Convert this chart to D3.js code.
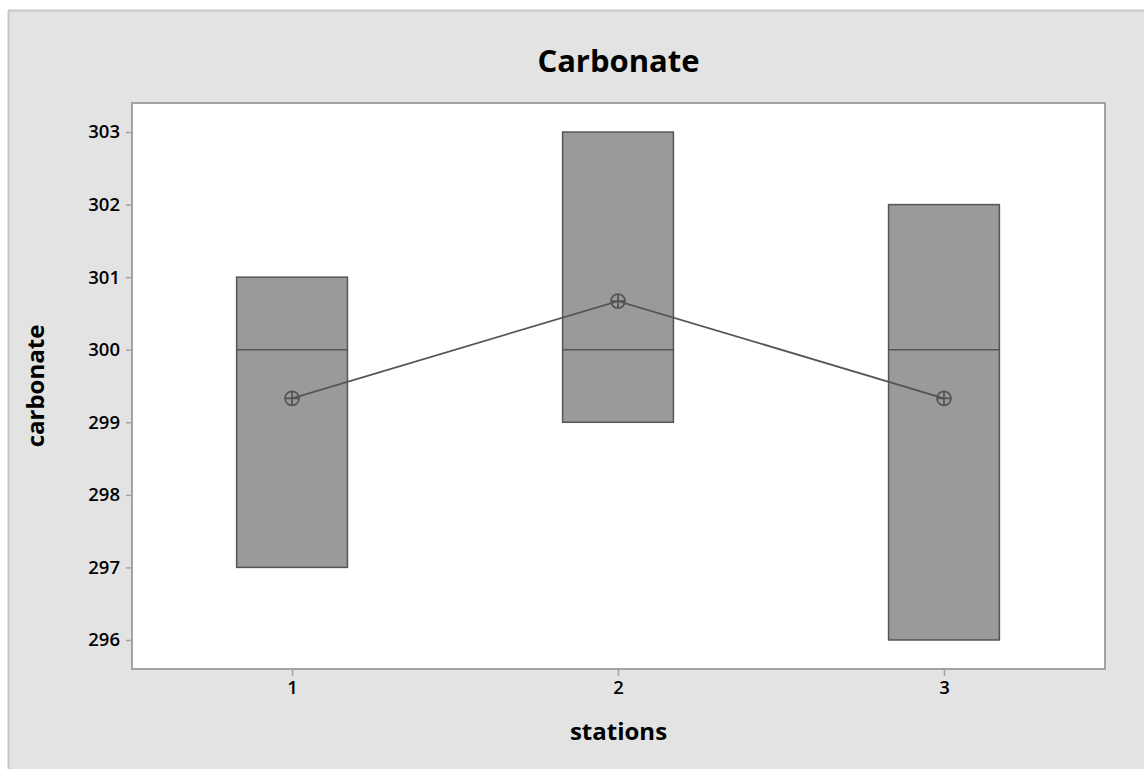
<!DOCTYPE html>
<html>
<head>
<meta charset="utf-8">
<script src="https://cdn.jsdelivr.net/npm/d3@7"></script>
<style>
  html, body { margin: 0; padding: 0; background: #ffffff; }
  svg { display: block; }
</style>
</head>
<body>
<svg id="chart" width="1144" height="769"></svg>
<script>
// Carbonate by station: box spans (Q1..Q3), median line, mean connected by a line
const stations = ["1", "2", "3"];
const q1Values = [297, 299, 296];
const medianValues = [300, 300, 300];
const q3Values = [301, 303, 302];
const meanValues = [299.33, 300.67, 299.33];
const yTicks = [296, 297, 298, 299, 300, 301, 302, 303];

const svg = d3.select("#chart");
const W = 1144, H = 769;
const font = "'Open Sans', 'Noto Sans', sans-serif";

// outer panel
svg.append("rect").attr("x", 0).attr("y", 0).attr("width", W).attr("height", H).attr("fill", "#ffffff");
svg.append("rect").attr("x", 8).attr("y", 10).attr("width", W - 8).attr("height", H - 10)
  .attr("fill", "#e3e3e3");
svg.append("line").attr("x1", 8).attr("x2", W).attr("y1", 10.5).attr("y2", 10.5)
  .attr("stroke", "#c8c8c8").attr("stroke-width", 2);
svg.append("line").attr("x1", 8.5).attr("x2", 8.5).attr("y1", 10).attr("y2", H)
  .attr("stroke", "#c8c8c8").attr("stroke-width", 2);

const plot = { left: 132, top: 103, right: 1105, bottom: 669 };

const x = d3.scaleLinear().domain([0.509, 3.494]).range([plot.left, plot.right]);
const y = d3.scaleLinear().domain([295.6, 303.4]).range([plot.bottom, plot.top]);

// plotting area
svg.append("rect")
  .attr("x", plot.left).attr("y", plot.top)
  .attr("width", plot.right - plot.left).attr("height", plot.bottom - plot.top)
  .attr("fill", "#ffffff").attr("stroke", "#a3a3a3").attr("stroke-width", 2);

// axes
const yAxis = d3.axisLeft(y).tickValues(yTicks).tickSize(5).tickPadding(6).tickFormat(d3.format("d"));
const yg = svg.append("g").attr("transform", `translate(${plot.left - 1},0)`).call(yAxis);
yg.select(".domain").remove();
yg.selectAll(".tick line").attr("stroke", "#a3a3a3").attr("stroke-width", 1.5);
yg.selectAll(".tick text").attr("fill", "#000").style("font-family", font)
  .style("font-size", "18.5px").style("font-weight", 600);

const xAxis = d3.axisBottom(x).tickValues(stations.map(Number)).tickSize(6).tickPadding(5)
  .tickFormat((d, i) => stations[i]);
const xg = svg.append("g").attr("transform", `translate(0,${plot.bottom + 1})`).call(xAxis);
xg.select(".domain").remove();
xg.selectAll(".tick line").attr("stroke", "#a3a3a3").attr("stroke-width", 1.5);
xg.selectAll(".tick text").attr("fill", "#000").style("font-family", font)
  .style("font-size", "18.5px").style("font-weight", 600);

// boxes
const boxHalf = 0.17;
const boxes = svg.append("g");
stations.forEach((s, i) => {
  const cx = Number(s);
  boxes.append("rect")
    .attr("x", x(cx - boxHalf)).attr("y", y(q3Values[i]))
    .attr("width", x(cx + boxHalf) - x(cx - boxHalf))
    .attr("height", y(q1Values[i]) - y(q3Values[i]))
    .attr("fill", "#9a9a9a").attr("stroke", "#555555").attr("stroke-width", 1.5);
  boxes.append("line")
    .attr("x1", x(cx - boxHalf)).attr("x2", x(cx + boxHalf))
    .attr("y1", y(medianValues[i])).attr("y2", y(medianValues[i]))
    .attr("stroke", "#555555").attr("stroke-width", 1.5);
});

// mean connect line
const meanPts = stations.map((s, i) => [x(Number(s)), y(meanValues[i])]);
svg.append("path").attr("d", d3.line()(meanPts))
  .attr("fill", "none").attr("stroke", "#555555").attr("stroke-width", 1.8);

// mean symbols (circled plus)
const r = 7;
const sym = svg.append("g");
meanPts.forEach(([px, py]) => {
  sym.append("circle").attr("cx", px).attr("cy", py).attr("r", r)
    .attr("fill", "none").attr("stroke", "#555555").attr("stroke-width", 1.8);
  sym.append("line").attr("x1", px - r).attr("x2", px + r).attr("y1", py).attr("y2", py)
    .attr("stroke", "#555555").attr("stroke-width", 1.8);
  sym.append("line").attr("x1", px).attr("x2", px).attr("y1", py - r).attr("y2", py + r)
    .attr("stroke", "#555555").attr("stroke-width", 1.8);
});

// titles
svg.append("text").attr("x", (plot.left + plot.right) / 2).attr("y", 72)
  .attr("text-anchor", "middle").style("font-family", font)
  .style("font-size", "31px").style("font-weight", 700).text("Carbonate");

svg.append("text").attr("x", (plot.left + plot.right) / 2).attr("y", 740)
  .attr("text-anchor", "middle").style("font-family", font)
  .style("font-size", "24px").style("font-weight", 700).text("stations");

svg.append("text")
  .attr("transform", `translate(44,${(plot.top + plot.bottom) / 2}) rotate(-90)`)
  .attr("text-anchor", "middle").style("font-family", font)
  .style("font-size", "24px").style("font-weight", 700).text("carbonate");
</script>
</body>
</html>
